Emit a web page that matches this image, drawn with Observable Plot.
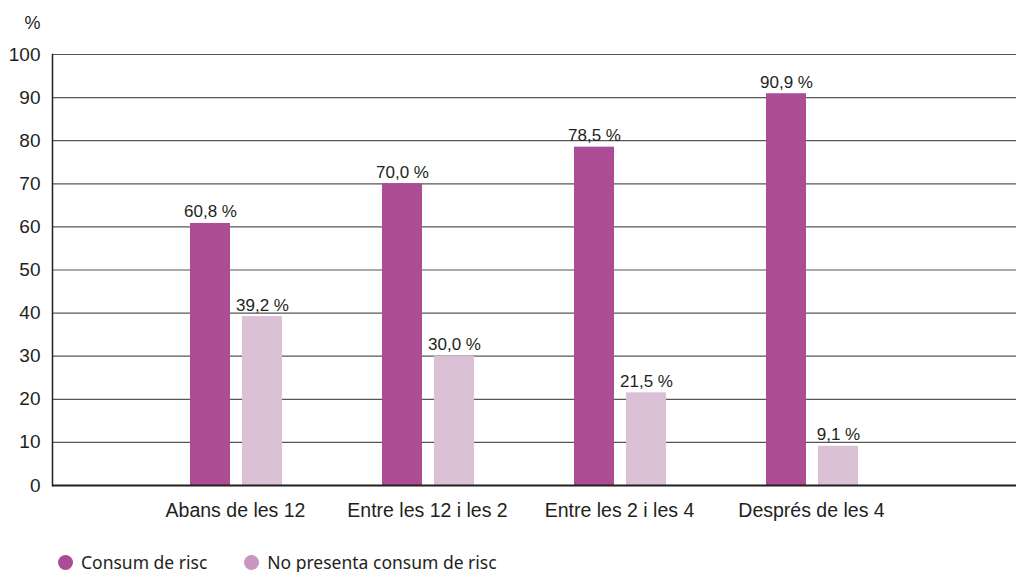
<!DOCTYPE html>
<html><head><meta charset="utf-8">
<script src="https://cdn.jsdelivr.net/npm/d3@7"></script>
<script src="https://cdn.jsdelivr.net/npm/@observablehq/plot@0.6"></script>
<style>
body{margin:0;background:#fff;font-family:"Liberation Sans",Arial,sans-serif;}
#legend{position:absolute;left:58px;top:550px;display:flex;align-items:center;font-family:"Noto Sans",sans-serif;font-size:17.5px;color:#231f20;}
#legend .sw{display:inline-block;width:15px;height:15px;border-radius:50%;margin-right:8px;}
#legend .it{display:flex;align-items:center;margin-right:37px;}
</style></head>
<body>
<div id="chart"></div>
<div id="legend"></div>
<script>
const categories = ["Abans de les 12","Entre les 12 i les 2","Entre les 2 i les 4","Després de les 4"];
const series = ["Consum de risc","No presenta consum de risc"];
const consumRisc = [60.8, 70.0, 78.5, 90.9];
const noConsum = [39.2, 30.0, 21.5, 9.1];
const yTicks = [0,10,20,30,40,50,60,70,80,90,100];
const barColors = ["#ac4c94","#dbc1d6"];
const legendColors = ["#ac4c94","#c996bd"];

const rowsA = categories.map((c,i)=>({cat:c, value:consumRisc[i]}));
const rowsB = categories.map((c,i)=>({cat:c, value:noConsum[i]}));
const fmt = v => v.toFixed(1).replace(".", ",") + " %";

const chart = Plot.plot({
  width: 1018,
  height: 545,
  marginLeft: 52,
  marginRight: 2,
  marginTop: 54,
  marginBottom: 60,
  style: {fontFamily: '"Liberation Sans", Arial, sans-serif', fontSize: "16px", color: "#231f20", background: "#fff"},
  x: {domain: categories, range: [139, 907], padding: 0, label: null},
  y: {domain: [0,100], label: null},
  marks: [
    Plot.ruleY(yTicks.filter(d=>d>0), {stroke: "#5a5458", strokeWidth: 1.2}),
    Plot.barY(rowsA, {x: "cat", y: "value", fill: barColors[0], insetLeft: 51, insetRight: 101}),
    Plot.barY(rowsB, {x: "cat", y: "value", fill: barColors[1], insetLeft: 103, insetRight: 49}),
    Plot.text(rowsA, {x: "cat", y: "value", text: d=>fmt(d.value), dx: -25, dy: -6, lineAnchor: "bottom", fontSize: 17, fill: "#231f20"}),
    Plot.text(rowsB, {x: "cat", y: "value", text: d=>fmt(d.value), dx: 27, dy: -6, lineAnchor: "bottom", fontSize: 17, fill: "#231f20"}),
    Plot.ruleY([0], {stroke: "#231f20", strokeWidth: 2.2}),
    Plot.frame({anchor: "left", stroke: "#231f20", strokeWidth: 1.5}),
    Plot.axisY(yTicks, {tickSize: 0, tickPadding: 12, fontSize: 19, label: null}),
    Plot.axisX({tickSize: 0, tickPadding: 18, fontSize: 19.5, label: null}),
    Plot.text(["%"], {frameAnchor: "top-left", dx: -28, dy: -38, fontSize: 18, fill: "#231f20"})
  ]
});
document.getElementById("chart").appendChild(chart);

const leg = document.getElementById("legend");
series.forEach((s,i)=>{
  const it = document.createElement("span"); it.className="it";
  const sw = document.createElement("span"); sw.className="sw"; sw.style.background = legendColors[i];
  it.appendChild(sw); it.appendChild(document.createTextNode(s));
  leg.appendChild(it);
});
</script>
</body></html>
